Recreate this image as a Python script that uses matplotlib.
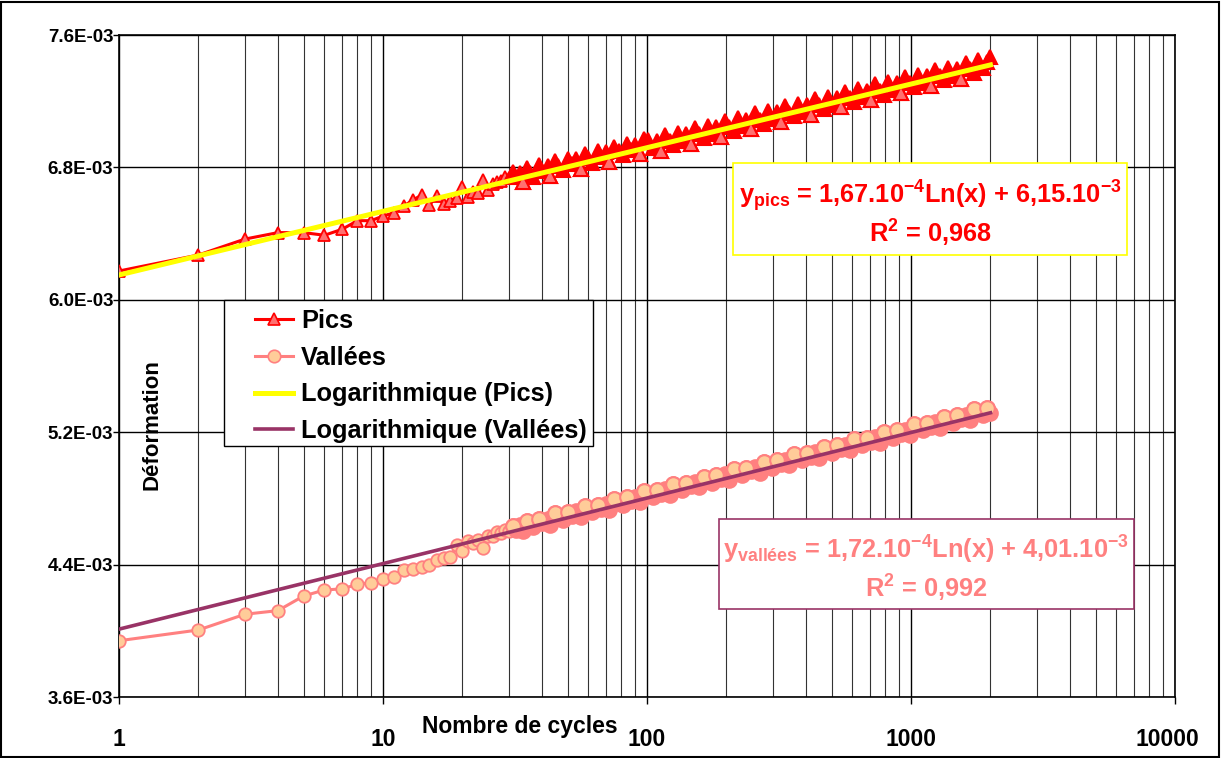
import numpy as np
import matplotlib
matplotlib.use("Agg")
import matplotlib.pyplot as plt
from matplotlib.patches import Rectangle
from matplotlib.lines import Line2D
from matplotlib.transforms import ScaledTranslation
from matplotlib.ticker import FixedLocator, LogLocator, NullFormatter

plt.rcParams['font.family'] = ['Liberation Sans', 'DejaVu Sans']
plt.rcParams['font.weight'] = 'bold'
plt.rcParams['mathtext.default'] = 'regular'

# ---------------- data (strain values in units of 1e-3) ----------------
cycles = list(range(1, 31)) + [
    31, 32, 33, 34, 35, 36, 37,
    39, 40, 42, 43, 45, 46, 48,
    50, 52, 54, 56, 58, 60, 62,
    65, 67, 70, 72, 75, 78, 81,
    84, 87, 90, 94, 97,
    101, 105, 109, 113, 117, 122, 126,
    131, 136, 141, 147, 152, 158, 164,
    170, 177, 183, 190, 198, 205, 213,
    221, 230, 238, 247, 257, 267, 277,
    287, 298, 310, 321, 334, 346, 360,
    373, 388, 402, 418, 434, 450, 467,
    485, 504, 523, 543, 564, 585, 608,
    631, 655, 680, 706, 733, 761, 790,
    820, 851, 884, 917, 952, 989, 1026,
    1066, 1106, 1148, 1192, 1238, 1285, 1334,
    1385, 1438, 1493, 1550, 1609, 1670, 1734,
    1800, 1869, 1940, 2000]

pics = [
    6.174, 6.271, 6.367, 6.406, 6.406, 6.390, 6.426, 6.478, 6.478, 6.506,
    6.526, 6.567, 6.603, 6.633, 6.573, 6.627, 6.579, 6.600, 6.613, 6.683,
    6.620, 6.650, 6.643, 6.724, 6.663, 6.700, 6.712, 6.720, 6.745, 6.735,
    6.774, 6.739, 6.769, 6.709, 6.799, 6.769, 6.743,
    6.812, 6.776, 6.809, 6.748, 6.841, 6.809, 6.786,
    6.853, 6.820, 6.851, 6.792, 6.883, 6.854, 6.829,
    6.897, 6.862, 6.894, 6.834, 6.926, 6.898, 6.874,
    6.940, 6.906, 6.937, 6.879, 6.969,
    6.966, 6.917, 6.958, 6.899, 6.995, 6.957, 6.933,
    7.009, 6.961, 7.002, 6.943, 7.039, 7.001, 6.977,
    7.053, 7.004, 7.045, 6.986, 7.083, 7.044, 7.020,
    7.097, 7.048, 7.089, 7.030, 7.127, 7.088, 7.064,
    7.140, 7.091, 7.133, 7.074, 7.170, 7.131, 7.108,
    7.184, 7.136, 7.176, 7.118, 7.214, 7.175, 7.151,
    7.228, 7.179, 7.220, 7.162, 7.258, 7.219, 7.195,
    7.272, 7.223, 7.264, 7.206, 7.302, 7.263, 7.239,
    7.315, 7.267, 7.308, 7.249, 7.346, 7.307, 7.283,
    7.359, 7.311, 7.352, 7.293, 7.389, 7.351, 7.327,
    7.403, 7.354, 7.395, 7.337, 7.433, 7.394, 7.371,
    7.447, 7.398, 7.439, 7.470]

vallees = [
    3.940, 4.005, 4.100, 4.122, 4.210, 4.247, 4.253, 4.281, 4.291, 4.311,
    4.327, 4.368, 4.374, 4.387, 4.398, 4.430, 4.440, 4.445, 4.520, 4.480,
    4.545, 4.530, 4.550, 4.500, 4.570, 4.575, 4.600, 4.590, 4.610, 4.605,
    4.636, 4.611, 4.637, 4.601, 4.666, 4.641, 4.626,
    4.675, 4.650, 4.678, 4.642, 4.710, 4.684, 4.671,
    4.718, 4.695, 4.721, 4.687, 4.753, 4.729, 4.715,
    4.763, 4.738, 4.766, 4.731, 4.798, 4.774, 4.761,
    4.807, 4.783, 4.809, 4.776, 4.842,
    4.819, 4.806, 4.852, 4.828, 4.854, 4.821, 4.887,
    4.864, 4.850, 4.896, 4.873, 4.899, 4.866, 4.932,
    4.908, 4.895, 4.941, 4.918, 4.945, 4.911, 4.977,
    4.954, 4.940, 4.986, 4.963, 4.989, 4.956, 5.022,
    4.998, 4.985, 5.032, 5.008, 5.035, 5.001, 5.067,
    5.044, 5.030, 5.076, 5.053, 5.080, 5.046, 5.112,
    5.089, 5.075, 5.122, 5.098, 5.125, 5.091, 5.158,
    5.134, 5.120, 5.167, 5.143, 5.170, 5.136, 5.203,
    5.179, 5.165, 5.212, 5.188, 5.215, 5.181, 5.248,
    5.224, 5.211, 5.257, 5.233, 5.260, 5.226, 5.293,
    5.269, 5.256, 5.302, 5.279, 5.305, 5.271, 5.338,
    5.314, 5.301, 5.347, 5.318]

# logarithmic trend coefficients as printed on the chart: y = a*ln(x) + b
trend_pics = (1.67e-4, 6.15e-3)
trend_vallees = (1.72e-4, 4.01e-3)

y_ticks = [3.6e-3, 4.4e-3, 5.2e-3, 6.0e-3, 6.8e-3, 7.6e-3]
y_tick_labels = ["3.6E-03", "4.4E-03", "5.2E-03", "6.0E-03", "6.8E-03", "7.6E-03"]
x_ticks = [1, 10, 100, 1000, 10000]
x_tick_labels = ["1", "10", "100", "1000", "10000"]

# ---------------- figure ----------------
W, H = 1221, 758
fig = plt.figure(figsize=(W / 100, H / 100), dpi=100)
ax = fig.add_axes([119 / W, 1 - 697 / H, (1175 - 119) / W, (697 - 35) / H])

n = min(len(cycles), len(pics), len(vallees))
x = np.array(cycles[:n], dtype=float)
yp = np.array(pics[:n]) * 1e-3
yv = np.array(vallees[:n]) * 1e-3
fit_p = trend_pics[0] * np.log(x) + trend_pics[1]
fit_v = trend_vallees[0] * np.log(x) + trend_vallees[1]
sparse = x <= 30
dense = ~sparse

red = '#FF0000'
salmon = '#FF8080'
peach = '#FFCC99'
pink = '#FF7070'
yellow = '#FFFF00'
purple = '#993366'

mk_s = dict(ms=9, markeredgewidth=1.3, ls='none')
mk_d = dict(ms=10.5, markeredgewidth=1.5, ls='none')

# Pics: connecting line, then markers. In the crowded part the overlapping
# red outlines fill the markers, only the lowest ones show their pink face.
ax.plot(x, yp, color=red, lw=2.2, zorder=2.8)
ax.plot(x[sparse], yp[sparse], marker='^', markerfacecolor=pink,
        markeredgecolor=red, zorder=3, **mk_s)
ax.plot(x[dense], yp[dense], marker='^', markerfacecolor=red,
        markeredgecolor=red, zorder=3, **mk_d)
low = dense & (yp < fit_p - 0.028e-3)
ax.plot(x[low], yp[low], marker='^', markerfacecolor=pink,
        markeredgecolor=red, zorder=3.05, **mk_d)

# Vallées
ax.plot(x, yv, color=salmon, lw=2.2, zorder=2.8)
ax.plot(x[sparse], yv[sparse], marker='o', markerfacecolor=peach,
        markeredgecolor=salmon, zorder=3, **mk_s)
ax.plot(x[dense], yv[dense], marker='o', markerfacecolor=salmon,
        markeredgecolor=salmon, zorder=3, **mk_d)
high = dense & (yv > fit_v + 0.03e-3)
ax.plot(x[high], yv[high], marker='o', markerfacecolor=peach,
        markeredgecolor=salmon, zorder=3.05, **mk_d)

xt = np.linspace(1, 2000, 4000)
ax.plot(xt, trend_pics[0] * np.log(xt) + trend_pics[1], color=yellow, lw=3.6, zorder=4)
ax.plot(xt, trend_vallees[0] * np.log(xt) + trend_vallees[1], color=purple, lw=2.6, zorder=4)

ax.set_xscale('log')
ax.set_xlim(1, 10000)
ax.set_ylim(3.6e-3, 7.6e-3)

ax.xaxis.set_major_locator(FixedLocator(x_ticks))
ax.set_xticklabels(x_tick_labels)
ax.xaxis.set_minor_locator(LogLocator(base=10, subs=np.arange(2, 10)))
ax.xaxis.set_minor_formatter(NullFormatter())
ax.set_yticks(y_ticks)
ax.set_yticklabels(y_tick_labels)

ax.grid(True, which='major', axis='both', color='black', lw=1.0, zorder=1)
ax.grid(True, which='minor', axis='x', color='#333333', lw=0.8, zorder=1)
ax.set_axisbelow(True)

ax.tick_params(axis='x', which='major', direction='out', length=5, width=1,
               pad=17, labelsize=16.5)
ax.tick_params(axis='x', which='minor', length=0)
ax.tick_params(axis='y', which='major', direction='out', length=4, width=1,
               pad=0, labelsize=13.5)
for lab in ax.get_xticklabels() + ax.get_yticklabels():
    lab.set_fontweight('bold')
last = ax.get_xticklabels()[-1]
last.set_horizontalalignment('right')
last.set_transform(last.get_transform() + ScaledTranslation(24 / 100, 0, fig.dpi_scale_trans))
for s in ax.spines.values():
    s.set_color('black')
    s.set_linewidth(1.2)

# axis titles
fig.text(520 / W, 1 - 726 / H, 'Nombre de cycles', ha='center', va='center',
         fontsize=16.5, fontweight='bold')
fig.text(152 / W, 1 - 425 / H, 'Déformation', ha='center', va='center',
         rotation=90, fontsize=16, fontweight='bold')

# legend
h_pics = Line2D([], [], color=red, lw=2.2, marker='^', ms=9, markerfacecolor=pink,
                markeredgecolor=red, markeredgewidth=1.2)
h_val = Line2D([], [], color=salmon, lw=2.2, marker='o', ms=9, markerfacecolor=peach,
               markeredgecolor=salmon, markeredgewidth=1.2)
h_tp = Line2D([], [], color=yellow, lw=3.6)
h_tv = Line2D([], [], color=purple, lw=2.6)
fig.patches.append(Rectangle((224 / W, 1 - 446 / H), (593 - 224) / W, (446 - 300) / H,
                             transform=fig.transFigure, facecolor='white',
                             edgecolor='black', lw=1.0, zorder=5))
leg = fig.legend(handles=[h_pics, h_val, h_tp, h_tv],
                 labels=['Pics', 'Vallées', 'Logarithmique (Pics)', 'Logarithmique (Vallées)'],
                 loc='upper left', bbox_to_anchor=(250 / W, 1 - 304 / H), frameon=False,
                 prop={'weight': 'bold', 'size': 18.3}, handlelength=1.5,
                 handletextpad=0.3, labelspacing=0.5, borderpad=0.2,
                 numpoints=1, borderaxespad=0)
leg.set_zorder(6)

# equation boxes
fig.patches.append(Rectangle((733 / W, 1 - 255 / H), (1127 - 733) / W, (255 - 163) / H,
                             transform=fig.transFigure, facecolor='white',
                             edgecolor=yellow, lw=1.2, zorder=5))
fig.text(930 / W, 1 - 196 / H, r"y$_{pics}$ = 1,67.10$^{-4}$Ln(x) + 6,15.10$^{-3}$",
         ha='center', va='center', color=red, fontsize=18.3, fontweight='bold', zorder=6)
fig.text(930 / W, 1 - 233 / H, r"R$^{2}$ = 0,968",
         ha='center', va='center', color=red, fontsize=18.3, fontweight='bold', zorder=6)

fig.patches.append(Rectangle((719 / W, 1 - 609 / H), (1134 - 719) / W, (609 - 519) / H,
                             transform=fig.transFigure, facecolor='white',
                             edgecolor=purple, lw=1.2, zorder=5))
fig.text(926 / W, 1 - 550 / H, r"y$_{vallées}$ = 1,72.10$^{-4}$Ln(x) + 4,01.10$^{-3}$",
         ha='center', va='center', color=salmon, fontsize=18.3, fontweight='bold', zorder=6)
fig.text(926 / W, 1 - 588 / H, r"R$^{2}$ = 0,992",
         ha='center', va='center', color=salmon, fontsize=18.3, fontweight='bold', zorder=6)

# outer frame
fig.patches.append(Rectangle((1 / W, 1 / H), (W - 3) / W, (H - 3) / H,
                             transform=fig.transFigure, facecolor='none',
                             edgecolor='black', lw=1.5, zorder=10))

fig.savefig('out.png', dpi=100, facecolor='white')
